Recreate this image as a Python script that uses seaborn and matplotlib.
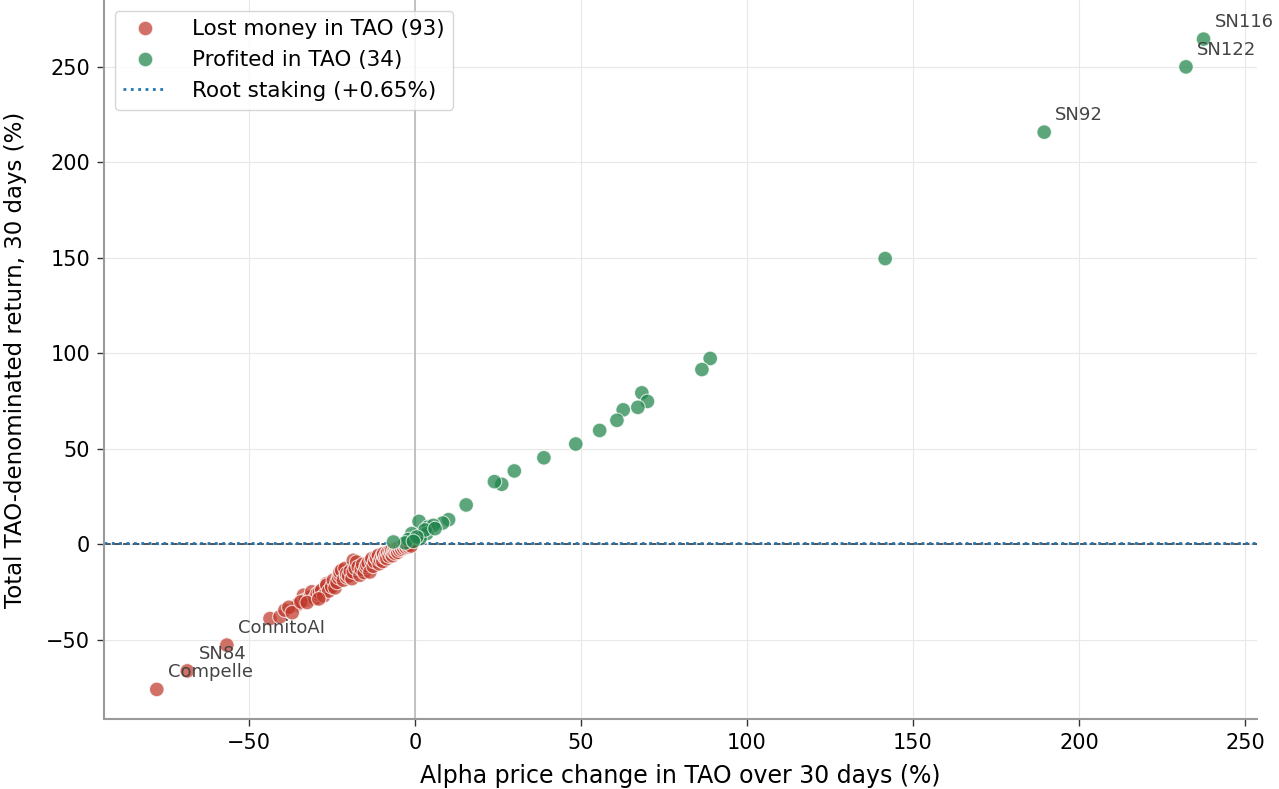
import matplotlib
matplotlib.use("Agg")
import matplotlib.pyplot as plt
import seaborn as sns
import pandas as pd

# subnets that lost money in TAO over 30 days
red_x = [-77.8, -68.6, -56.7, -43.7, -40.7, -39.2, -35.6, -35.0, -33.6, -33.1,
         -31.6, -31.1, -30.2, -29.5, -28.8, -28.1, -27.5, -26.6, -26.6, -26.0,
         -25.1, -24.6, -24.1, -23.5, -23.0, -22.6, -22.6, -22.1, -21.6, -21.1,
         -20.6, -20.6, -20.0, -19.5, -19.0, -18.6, -18.6, -18.0, -17.6, -17.1,
         -16.6, -16.2, -15.8, -15.3, -14.8, -14.5, -14.1, -13.6, -13.2, -13.0,
         -12.6, -12.2, -11.8, -11.5, -11.0, -10.8, -10.4, -10.0, -9.7, -9.5,
         -9.5, -9.0, -8.7, -8.5, -8.2, -7.8, -7.5, -7.2, -7.0, -6.8,
         -6.5, -6.2, -6.0, -5.7, -5.5, -5.2, -5.0, -4.7, -4.4, -4.0,
         -3.7, -3.4, -3.0, -2.7, -2.3, -2.0, -1.6, -1.2, -38.0, -37.0,
         -34.4, -32.5, -29.0]
red_y = [-76.0, -66.3, -52.8, -38.9, -38.0, -34.5, -31.9, -31.0, -26.7, -29.3,
         -27.6, -24.9, -28.5, -26.0, -25.2, -24.0, -27.0, -20.6, -21.4, -24.5,
         -22.3, -18.8, -22.8, -20.0, -17.5, -16.2, -14.5, -13.6, -18.8, -12.7,
         -17.1, -15.3, -16.5, -14.0, -18.0, -14.5, -8.4, -12.5, -9.3, -11.9,
         -16.2, -13.0, -10.5, -14.8, -12.0, -11.0, -9.8, -14.5, -8.8, -7.5,
         -11.5, -9.0, -6.8, -7.5, -5.8, -10.2, -8.2, -6.5, -9.0, -5.8,
         -4.9, -7.0, -5.5, -7.5, -4.2, -6.2, -3.5, -5.0, -3.1, -6.0,
         -4.0, -2.8, -4.8, -3.2, -2.3, -4.2, -1.8, -3.0, -1.5, -2.6,
         -1.0, -2.0, -0.8, -1.6, -0.5, -1.2, -0.3, -0.9, -33.0, -35.8,
         -30.2, -30.5, -28.6]

# subnets that profited in TAO
green_x = [237.5, 232.2, 189.5, 141.6, 88.9, 86.4, 68.3, 70.0, 67.1, 62.7,
           60.8, 55.6, 48.4, 38.8, 29.9, 26.1, 23.9, 15.4, 10.1, 8.3,
           1.2, 4.0, 5.5, 2.0, -1.0, -2.0, -3.0, -6.5, 3.5, 1.5,
           3.0, 0.5, 6.0, -0.5]
green_y = [264.5, 250.0, 215.8, 149.6, 97.3, 91.5, 79.3, 74.8, 71.7, 70.4,
           64.9, 59.6, 52.5, 45.3, 38.4, 31.4, 32.8, 20.6, 12.9, 11.1,
           12.0, 9.1, 9.9, 4.7, 5.6, 2.5, 0.7, 1.2, 5.6, 3.0,
           7.5, 3.8, 8.2, 1.5]

# labelled subnets: (name, x, y)
labels = [("SN116", 237.5, 264.5), ("SN122", 232.2, 250.0), ("SN92", 189.5, 215.8),
          ("ConnitoAI", -56.7, -52.8), ("SN84", -68.6, -66.3), ("Compelle", -77.8, -76.0)]

root_rate = 0.65

lost_lbl = f"Lost money in TAO ({len(red_x)})"
prof_lbl = f"Profited in TAO ({len(green_x)})"
root_lbl = f"Root staking (+{root_rate}%)"

df = pd.DataFrame({
    "x": red_x + green_x,
    "y": red_y + green_y,
    "group": [lost_lbl] * len(red_x) + [prof_lbl] * len(green_x),
})

sns.set_style("ticks", {"axes.grid": True, "grid.color": "#e8e8e8",
                        "axes.edgecolor": "#9a9a9a", "text.color": "black",
                        "axes.labelcolor": "black", "xtick.color": "black",
                        "ytick.color": "black"})

fig, ax = plt.subplots(figsize=(12.79, 7.89), dpi=100)
fig.subplots_adjust(left=0.0813, right=0.9828, bottom=0.0887, top=1.0)

ax.axvline(0, color="#b5b5b5", lw=1.1, zorder=1)
ax.axhline(0, color="#333333", ls="--", lw=1.3, alpha=0.9, zorder=1)
ax.axhline(root_rate, color="#1f77b4", ls=":", lw=2.0, zorder=1, label=root_lbl)

sns.scatterplot(data=df, x="x", y="y", hue="group",
                palette={lost_lbl: "#c0392b", prof_lbl: "#1e8449"},
                s=110, alpha=0.72, edgecolor="white", linewidth=0.8,
                ax=ax, zorder=3)

for name, px, py in labels:
    ax.annotate(name, (px, py), xytext=(8, 6), textcoords="offset points",
                ha="left", va="bottom", fontsize=13, color="#444444")

ax.set_xlim(-93.7, 253.6)
ax.set_ylim(-91.5, 285)
ax.set_xlabel("Alpha price change in TAO over 30 days (%)", fontsize=17, labelpad=8)
ax.set_ylabel("Total TAO-denominated return, 30 days (%)", fontsize=16.5, labelpad=14)
ax.tick_params(labelsize=15, color="#333333", width=1, length=5, pad=5)
for sp in ["left", "bottom"]:
    ax.spines[sp].set_linewidth(1.5)
sns.despine(ax=ax)

handles, lbls = ax.get_legend_handles_labels()
order = [lbls.index(lost_lbl), lbls.index(prof_lbl), lbls.index(root_lbl)]
ax.legend([handles[i] for i in order], [lbls[i] for i in order],
          loc="upper left", fontsize=15.5, frameon=True, edgecolor="#cccccc",
          handletextpad=1.2)

fig.savefig("out.png", dpi=100)
